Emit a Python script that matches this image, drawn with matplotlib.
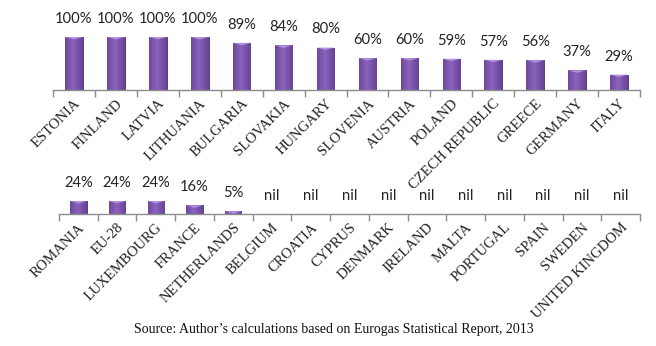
import matplotlib
matplotlib.use("Agg")
import matplotlib.pyplot as plt
import numpy as np
from matplotlib.colors import LinearSegmentedColormap

top_countries = ["ESTONIA", "FINLAND", "LATVIA", "LITHUANIA", "BULGARIA", "SLOVAKIA",
                 "HUNGARY", "SLOVENIA", "AUSTRIA", "POLAND", "CZECH REPUBLIC", "GREECE",
                 "GERMANY", "ITALY"]
top_values = [100, 100, 100, 100, 89, 84, 80, 60, 60, 59, 57, 56, 37, 29]

bottom_countries = ["ROMANIA", "EU-28", "LUXEMBOURG", "FRANCE", "NETHERLANDS", "BELGIUM",
                    "CROATIA", "CYPRUS", "DENMARK", "IRELAND", "MALTA", "PORTUGAL",
                    "SPAIN", "SWEDEN", "UNITED KINGDOM"]
bottom_values = [24, 24, 24, 16, 5, None, None, None, None, None, None, None, None, None, None]

source_text = "Source: Author\u2019s calculations based on Eurogas Statistical Report, 2013"

W, H = 656, 346
fig = plt.figure(figsize=(W / 100, H / 100), dpi=100)

grad = np.linspace(0, 1, 64)
prof = 1 - 0.55 * np.abs(grad - 0.45) * 2
cmap = LinearSegmentedColormap.from_list("purp", ["#4f2f7a", "#8a63bd"])
img = np.tile(prof, (8, 1))


def draw(ax_rect, cats, vals):
    ax = fig.add_axes(ax_rect)
    n = len(cats)
    x = np.arange(n)
    hv = [v if v is not None else 0 for v in vals]
    bars = ax.bar(x, hv, width=0.42, color="#7a52ab", edgecolor="#4a2d70", linewidth=0.6, zorder=2)
    for b, v in zip(bars, hv):
        if v <= 0:
            continue
        bx, by = b.get_x(), b.get_y()
        bw, bh = b.get_width(), b.get_height()
        im = ax.imshow(img, extent=(bx, bx + bw, by, by + bh), cmap=cmap, vmin=0, vmax=1,
                       aspect="auto", zorder=2.5, interpolation="bilinear")
        im.set_clip_path(b)
        cap = min(bh, 4.5)
        ax.fill([bx, bx + bw, bx + bw / 2], [by + bh, by + bh, by + bh - cap],
                color="#b393dd", zorder=3, lw=0)
    for xi, v in zip(x, vals):
        lab = "nil" if v is None else f"{v}%"
        ax.annotate(lab, (xi, v if v is not None else 0), xytext=(0, 8), textcoords="offset points",
                    ha="center", va="bottom", fontsize=10.6, family="Lato", color="#222222",
                    annotation_clip=False)
    ax.set_xlim(-0.5, n - 0.5)
    ax.set_ylim(0, 100)
    for s in ["top", "left", "right"]:
        ax.spines[s].set_visible(False)
    ax.spines["bottom"].set_color("#8c8c8c")
    ax.spines["bottom"].set_linewidth(1.0)
    ax.set_yticks([])
    ax.set_xticks(x)
    ax.set_xticklabels(cats, rotation=45, ha="right", va="top", rotation_mode="anchor",
                       family="Liberation Serif", fontsize=10.5, color="#222222")
    ax.tick_params(axis="x", which="major", length=0, pad=5)
    ax.set_xticks(np.arange(n + 1) - 0.5, minor=True)
    ax.tick_params(axis="x", which="minor", length=5, color="#8c8c8c", width=1.0)
    ax.patch.set_visible(False)
    return ax


draw([53 / W, (H - 90) / H, (640 - 53) / W, 53 / H], top_countries, top_values)
draw([59 / W, (H - 214) / H, (640 - 59) / W, 54 / H], bottom_countries, bottom_values)

fig.text(334 / W, (H - 329) / H, source_text, ha="center", va="center",
         family="Liberation Serif", fontsize=10, color="#111111")

fig.savefig("out.png", dpi=100)
